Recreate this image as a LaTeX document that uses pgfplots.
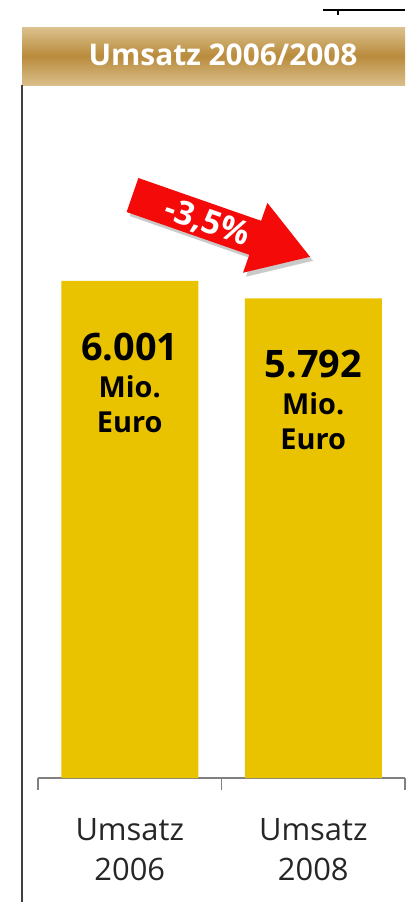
\documentclass[border=0pt]{standalone}
\usepackage{fontspec}
\setmainfont{Open Sans}
\usepackage{pgfplots}
\pgfplotsset{compat=1.18}
\definecolor{barY}{HTML}{E9C300}
\definecolor{hdrTop}{HTML}{DCC28E}
\definecolor{hdrMid}{HTML}{B98B3C}
\definecolor{hdrBot}{HTML}{D9BE8A}
\definecolor{arrowRed}{HTML}{F50A0A}

\begin{document}
\begin{tikzpicture}
% chart
\begin{axis}[
  at={(38bp,-778bp)}, anchor=south west,
  scale only axis, width=367bp, height=678bp,
  xmin=-0.5, xmax=1.5, ymin=0, ymax=8186,
  enlargelimits=false, clip=false,
  axis x line=bottom, axis y line=none,
  axis line style={draw=gray, line width=1.5bp, -},
  xtick={0,1}, major tick length=0pt,
  xticklabels={Umsatz\\2006, Umsatz\\2008},
  xticklabel style={font=\fontsize{31}{40}\selectfont, text=black!85,
    align=center, inner sep=0pt, anchor=north, yshift=-40bp},
  extra x ticks={-0.5,0.5,1.5}, extra x tick labels={},
  extra x tick style={major tick length=12bp, tick align=outside,
    tick style={gray, line width=1.5bp}},
]
\addplot[ybar, fill=barY, draw=none, bar width=137bp,
  point meta=explicit symbolic,
  nodes near coords={{\fontsize{38}{40}\selectfont\pgfplotspointmeta}\\[2bp]Mio.\\Euro},
  every node near coord/.append style={anchor=north, yshift=-52bp, inner sep=0pt,
    align=center, text=black, font=\fontsize{29}{35}\selectfont\bfseries},
] coordinates {(0,6001) [6.001] (1,5792) [5.792]};
\end{axis}

% decoration in pixel coordinates
\begin{scope}[x=1bp, y=-1bp]
\path[use as bounding box] (0,0) rectangle (405,902);
% header band
\shade[top color=hdrTop, bottom color=hdrBot, middle color=hdrMid] (22,27) rectangle (405,85);
\node[anchor=base, text=white, font=\fontsize{30}{32}\selectfont\bfseries] at (223,65) {Umsatz 2006/2008};
% frame lines
\draw[black!75, line width=1.5bp] (22,85) -- (22,902);
\draw[black, line width=2.5bp] (323,10) -- (405,10);
\draw[black, line width=2bp] (338,10) -- (338,15);
% arrow -3,5%
\fill[black!35, opacity=0.6] ([shift={(3,4)}]138.4,178.0) -- ([shift={(3,4)}]261.1,220.8)
  -- ([shift={(3,4)}]267.4,202.9) -- ([shift={(3,4)}]310,256.8) -- ([shift={(3,4)}]243.0,272.7)
  -- ([shift={(3,4)}]249.3,254.8) -- ([shift={(3,4)}]126.6,212.0) -- cycle;
\fill[arrowRed] (138.4,178.0) -- (261.1,220.8) -- (267.4,202.9) -- (310,256.8)
  -- (243.0,272.7) -- (249.3,254.8) -- (126.6,212.0) -- cycle;
\node[rotate=-19.2, text=white, font=\fontsize{33}{36}\selectfont\bfseries] at (207,223) {-3,5\%};
\end{scope}
\end{tikzpicture}
\end{document}
